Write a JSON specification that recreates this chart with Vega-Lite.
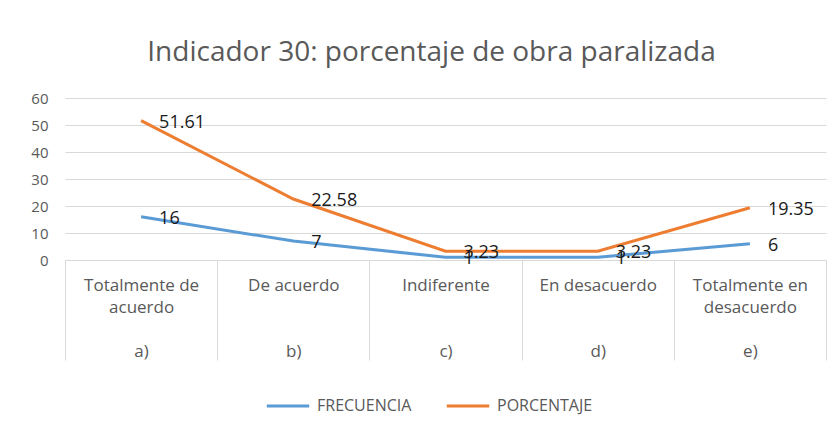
{
  "$schema": "https://vega.github.io/schema/vega-lite/v6.json",
  "autosize": "none",
  "width": 761,
  "height": 162,
  "padding": {"left": 65, "top": 98, "right": 13, "bottom": 161},
  "background": "white",
  "config": {
    "font": "Open Sans",
    "view": {"stroke": null}
  },
  "title": {
    "text": "Indicador 30: porcentaje de obra paralizada",
    "fontSize": 28,
    "fontWeight": "normal",
    "color": "#595959",
    "anchor": "middle",
    "dx": -14,
    "offset": 24
  },
  "data": {
    "values": [
      {"cat": "Totalmente de|acuerdo|\u200b|a)", "serie": "FRECUENCIA", "valor": 16},
      {"cat": "De acuerdo|\u200b|\u200b|b)", "serie": "FRECUENCIA", "valor": 7},
      {"cat": "Indiferente|\u200b|\u200b|c)", "serie": "FRECUENCIA", "valor": 1},
      {"cat": "En desacuerdo|\u200b|\u200b|d)", "serie": "FRECUENCIA", "valor": 1},
      {"cat": "Totalmente en|desacuerdo|\u200b|e)", "serie": "FRECUENCIA", "valor": 6},
      {"cat": "Totalmente de|acuerdo|\u200b|a)", "serie": "PORCENTAJE", "valor": 51.61},
      {"cat": "De acuerdo|\u200b|\u200b|b)", "serie": "PORCENTAJE", "valor": 22.58},
      {"cat": "Indiferente|\u200b|\u200b|c)", "serie": "PORCENTAJE", "valor": 3.23},
      {"cat": "En desacuerdo|\u200b|\u200b|d)", "serie": "PORCENTAJE", "valor": 3.23},
      {"cat": "Totalmente en|desacuerdo|\u200b|e)", "serie": "PORCENTAJE", "valor": 19.35}
    ]
  },
  "encoding": {
    "x": {
      "field": "cat",
      "type": "nominal",
      "sort": null,
      "scale": {"type": "band", "paddingInner": 0, "paddingOuter": 0},
      "axis": {
        "title": null,
        "labelAngle": 0,
        "labelExpr": "split(datum.label, '|')",
        "labelLineHeight": 22,
        "labelFontSize": 17,
        "labelColor": "#595959",
        "labelPadding": -83,
        "labelBaseline": "top",
        "tickBand": "extent",
        "tickSize": 100,
        "tickColor": "#D9D9D9",
        "domainColor": "#D9D9D9",
        "labelLimit": 200
      }
    },
    "y": {
      "field": "valor",
      "type": "quantitative",
      "scale": {"domain": [0, 60], "nice": false},
      "axis": {
        "title": null,
        "values": [0, 10, 20, 30, 40, 50, 60],
        "ticks": false,
        "domain": false,
        "gridColor": "#D9D9D9",
        "labelColor": "#595959",
        "labelFontSize": 15,
        "labelPadding": 17
      }
    },
    "color": {
      "field": "serie",
      "type": "nominal",
      "scale": {"domain": ["FRECUENCIA", "PORCENTAJE"], "range": ["#5B9BD5", "#ED7D31"]},
      "legend": {
        "title": null,
        "orient": "none",
        "legendX": 200,
        "legendY": 285,
        "direction": "horizontal",
        "symbolType": "stroke",
        "symbolSize": 1800,
        "symbolStrokeWidth": 3,
        "labelFontSize": 16,
        "labelColor": "#595959",
        "columnPadding": 28,
        "labelOffset": 6
      }
    }
  },
  "layer": [
    {"mark": {"type": "line", "strokeWidth": 3}},
    {
      "mark": {"type": "text", "align": "left", "baseline": "middle", "dx": 18, "dy": 2, "fontSize": 18, "color": "#1a1a1a"},
      "encoding": {"text": {"field": "valor", "type": "quantitative"}, "color": {"value": "#1a1a1a"}}
    }
  ]
}
